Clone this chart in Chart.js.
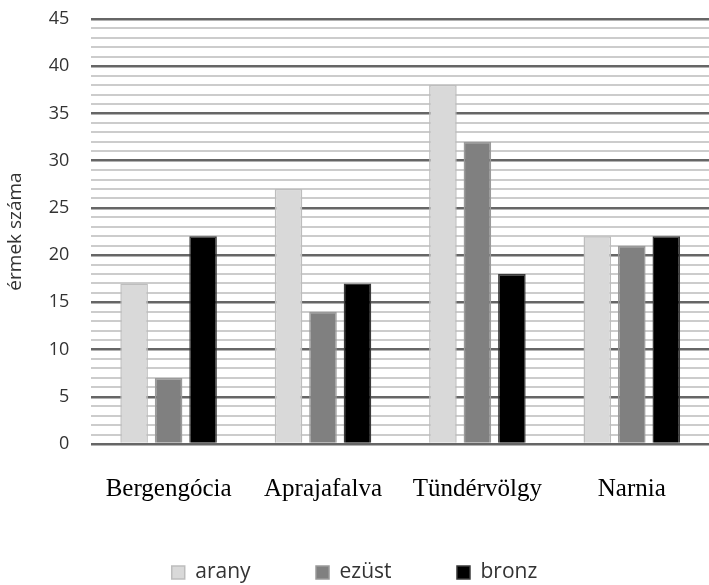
<!DOCTYPE html>
<html>
<head>
<meta charset="utf-8">
<script src="https://cdn.jsdelivr.net/npm/chart.js@4"></script>
<style>
html,body{margin:0;padding:0;background:#fff;}
#wrap{width:709px;height:585px;}
</style>
</head>
<body>
<div id="wrap"><canvas id="c" width="709" height="585"></canvas></div>
<script>
const categories = ["Bergengócia", "Aprajafalva", "Tündérvölgy", "Narnia"];
const arany = [17, 27, 38, 22];
const ezust = [7, 14, 32, 21];
const bronz = [22, 17, 18, 22];
const seriesNames = ["arany", "ezüst", "bronz"];
const yMin = 0, yMax = 45, yMajor = 5;

const sans = '"Open Sans", "DejaVu Sans", sans-serif';

new Chart(document.getElementById('c'), {
  type: 'bar',
  data: {
    labels: categories,
    datasets: [
      {label: seriesNames[0], data: arany, backgroundColor: '#d9d9d9', borderColor: '#bdbdbd', borderWidth: 1.5},
      {label: seriesNames[1], data: ezust, backgroundColor: '#808080', borderColor: '#9a9a9a', borderWidth: 1.5},
      {label: seriesNames[2], data: bronz, backgroundColor: '#000000', borderColor: '#3a3a3a', borderWidth: 1.5}
    ]
  },
  options: {
    responsive: false,
    animation: false,
    layout: {padding: {top: 19, right: 0, left: 0, bottom: -8}},
    categoryPercentage: 0.67,
    barPercentage: 0.8,
    plugins: {
      legend: {
        position: 'bottom',
        labels: {
          boxWidth: 13, boxHeight: 13, padding: 0,
          color: '#333', font: {family: sans, size: 21},
          generateLabels: chart => {
            const items = Chart.defaults.plugins.legend.labels.generateLabels(chart);
            items.forEach((it, i) => { if (i < items.length - 1) it.text = it.text + ' '.repeat(12); });
            return items;
          }
        }
      },
      tooltip: {enabled: false}
    },
    scales: {
      x: {
        grid: {display: false},
        border: {display: false},
        ticks: {color: '#000', padding: 22, font: {family: '"Liberation Serif", "Times New Roman", serif', size: 25}},
        title: {display: true, text: ' ', padding: {top: 0, bottom: 6}, font: {size: 25}}
      },
      y: {
        min: yMin, max: yMax,
        border: {display: false},
        grid: {
          drawTicks: true, tickLength: 22, tickColor: 'rgba(0,0,0,0)',
          color: c => (c.tick && c.tick.value % yMajor === 0) ? '#666666' : '#cccccc',
          lineWidth: c => (c.tick && c.tick.value % yMajor === 0) ? 2.5 : 2
        },
        ticks: {
          stepSize: 1, autoSkip: false, maxTicksLimit: 100, padding: 0,
          color: '#333', font: {family: sans, size: 18},
          callback: v => (v % yMajor === 0) ? v : ''
        },
        title: {
          display: true, text: 'érmek száma', color: '#333', padding: {top: 4, bottom: 22},
          font: {family: sans, size: 19}
        }
      }
    }
  }
});
</script>
</body>
</html>
